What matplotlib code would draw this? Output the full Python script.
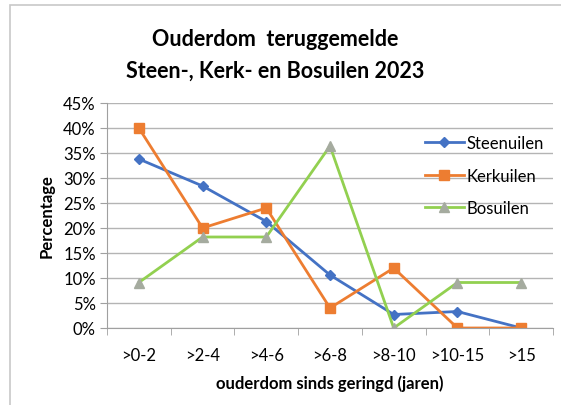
import matplotlib.pyplot as plt
from matplotlib.patches import Rectangle
from matplotlib.ticker import FuncFormatter

categories = ['>0-2', '>2-4', '>4-6', '>6-8', '>8-10', '>10-15', '>15']
steenuilen = [33.8, 28.4, 21.3, 10.6, 2.7, 3.3, 0.0]
kerkuilen = [40.0, 20.0, 24.0, 4.0, 12.0, 0.0, 0.0]
bosuilen = [9.1, 18.2, 18.2, 36.4, 0.0, 9.1, 9.1]

plt.rcParams['font.family'] = ['Lato', 'DejaVu Sans']

fig = plt.figure(figsize=(5.61, 4.06), dpi=100)
fig.patches.append(Rectangle((10/561, -0.1), 1.2, 1 - 6/406 + 0.1, transform=fig.transFigure,
                             fill=False, edgecolor='#c8c8c8', linewidth=1.2))
ax = fig.add_axes([107/561, 1 - 329/406, 446/561, 225/406])

x = list(range(len(categories)))
ax.plot(x, steenuilen, color='#4472c4', lw=2, marker='D', ms=5, label='Steenuilen')
ax.plot(x, kerkuilen, color='#ed7d31', lw=2, marker='s', ms=7, label='Kerkuilen')
ax.plot(x, bosuilen, color='#92d050', lw=2, marker='^', ms=7, mfc='#a5ab9f', mec='#a5ab9f',
        label='Bosuilen')

ax.set_xlim(-0.5, len(categories) - 0.5)
ax.set_ylim(0, 45)
ax.set_yticks(range(0, 50, 5))
ax.yaxis.set_major_formatter(FuncFormatter(lambda v, p: '%d%%' % v))
ax.set_xticks(x)
ax.set_xticklabels(categories)
ax.set_xticks([i - 0.5 for i in range(len(categories) + 1)], minor=True)
ax.tick_params(axis='x', which='major', length=0, pad=14, labelsize=12)
ax.tick_params(axis='x', which='minor', length=5, color='#a0a0a0')
ax.tick_params(axis='y', length=5, color='#a0a0a0', labelsize=12, pad=3)
ax.grid(axis='y', color='#b4b4b4', lw=1)
ax.set_axisbelow(True)
for s in ['top', 'right']:
    ax.spines[s].set_visible(False)
ax.spines['left'].set_color('#a0a0a0')
ax.spines['bottom'].set_color('#a0a0a0')

ax.set_xlabel('ouderdom sinds geringd (jaren)', fontsize=12, fontweight='bold', labelpad=8)
ax.set_ylabel('Percentage', fontsize=12, fontweight='bold', labelpad=6)

ax.legend(loc='upper left', bbox_to_anchor=(0.68, 0.925), frameon=False, fontsize=12,
          handlelength=2.3, handletextpad=0.2, labelspacing=1.0)

fig.text(0.49, 1 - 40/406, 'Ouderdom  teruggemelde', ha='center', va='center',
         fontsize=15.5, fontweight='bold')
fig.text(0.49, 1 - 71/406, 'Steen-, Kerk- en Bosuilen 2023', ha='center', va='center',
         fontsize=15.5, fontweight='bold')

fig.savefig('out.png', dpi=100)
